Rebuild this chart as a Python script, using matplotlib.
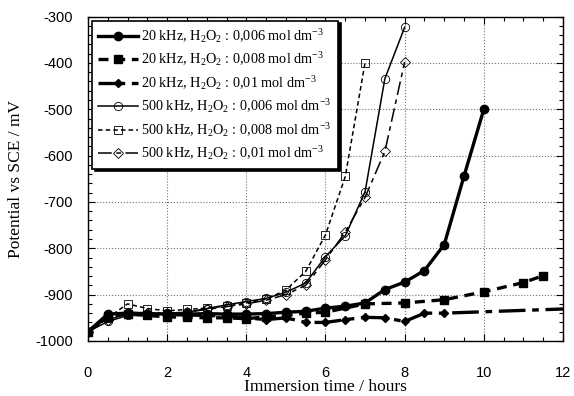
import matplotlib
matplotlib.use('Agg')
import matplotlib.pyplot as plt
from matplotlib.ticker import MultipleLocator

# immersion time (hours) and potential (mV vs SCE) for each run
t_20_006 = [0, 0.5, 1, 1.5, 2, 2.5, 3, 3.5, 4, 4.5, 5, 5.5, 6, 6.5, 7, 7.5, 8, 8.5, 9, 9.5, 10]
v_20_006 = [-980, -942, -940, -941, -942, -942, -941, -942, -942, -941, -938, -936, -929, -925,
            -918, -889, -873, -848, -792, -644, -500]

t_20_008 = [0, 0.5, 1, 1.5, 2, 2.5, 3, 3.5, 4, 4.5, 5, 5.5, 6, 7, 8, 9, 10, 11, 11.5]
v_20_008 = [-980, -948, -942, -945, -948, -949, -950, -950, -952, -948, -945, -940, -938,
            -920, -918, -911, -894, -874, -859]

t_20_01 = [0, 0.5, 1, 1.5, 2, 2.5, 3, 3.5, 4, 4.5, 5, 5.5, 6, 6.5, 7, 7.5, 8, 8.5, 9, 12]
v_20_01 = [-980, -945, -940, -942, -943, -944, -945, -946, -950, -954, -950, -960, -960, -954,
           -949, -950, -958, -940, -940, -931]

t_500_006 = [0, 0.5, 1, 1.5, 2, 2.5, 3, 3.5, 4, 4.5, 5, 5.5, 6, 6.5, 7, 7.5, 8]
v_500_006 = [-980, -958, -945, -942, -940, -938, -930, -922, -915, -908, -895, -875, -818, -773,
             -678, -434, -323]

t_500_008 = [0, 0.5, 1, 1.5, 2, 2.5, 3, 3.5, 4, 4.5, 5, 5.5, 6, 6.5, 7]
v_500_008 = [-980, -950, -920, -930, -935, -932, -929, -925, -918, -910, -890, -850, -771, -645, -399]

t_500_01 = [0, 0.5, 1, 1.5, 2, 2.5, 3, 3.5, 4, 4.5, 5, 5.5, 6, 6.5, 7, 7.5, 8]
v_500_01 = [-980, -955, -940, -940, -940, -938, -932, -926, -920, -912, -900, -880, -825, -765,
            -690, -591, -398]

labels = [
    '20 kHz, H$_2$O$_2$ : 0,006 mol dm$^{-3}$',
    '20 kHz, H$_2$O$_2$ : 0,008 mol dm$^{-3}$',
    '20 kHz, H$_2$O$_2$ : 0,01 mol dm$^{-3}$',
    '500 kHz, H$_2$O$_2$ : 0,006 mol dm$^{-3}$',
    '500 kHz, H$_2$O$_2$ : 0,008 mol dm$^{-3}$',
    '500 kHz, H$_2$O$_2$ : 0,01 mol dm$^{-3}$',
]

serif = 'Liberation Serif'
sans = 'Liberation Sans'
plt.rcParams['font.family'] = sans
plt.rcParams['axes.unicode_minus'] = False
plt.rcParams['mathtext.fontset'] = 'custom'
plt.rcParams['mathtext.rm'] = serif
plt.rcParams['mathtext.it'] = serif + ':italic'

fig = plt.figure(figsize=(5.74, 3.96), dpi=100)
ax = fig.add_axes([0.1533, 0.139, 0.8275, 0.819])

ax.plot(t_20_006, v_20_006, '-', color='k', lw=2.4, marker='o', ms=6, label=labels[0], zorder=5)
ax.plot(t_20_008, v_20_008, color='k', lw=2.4, dashes=(3, 2), marker='s', ms=6,
        label=labels[1], zorder=5)
ax.plot(t_20_01, v_20_01, color='k', lw=2.4, dashes=(8, 2, 2, 2), marker='D', ms=4.5,
        markevery=list(range(len(t_20_01) - 1)), label=labels[2], zorder=5)
ax.plot(t_500_006, v_500_006, '-', color='k', lw=1.1, marker='o', ms=6, mfc='none',
        mew=0.6, label=labels[3], zorder=4)
ax.plot(t_500_008, v_500_008, color='k', lw=1.1, dashes=(3, 2), marker='s', ms=6, mfc='none',
        mew=0.6, label=labels[4], zorder=4)
ax.plot(t_500_01, v_500_01, color='k', lw=1.1, dashes=(9, 3, 3, 3), marker='D', ms=5,
        mfc='none', mew=0.6, label=labels[5], zorder=4)

ax.set_xlim(0, 12)
ax.set_ylim(-1000, -300)
ax.xaxis.set_major_locator(MultipleLocator(2))
ax.xaxis.set_minor_locator(MultipleLocator(0.5))
ax.yaxis.set_major_locator(MultipleLocator(100))
ax.yaxis.set_minor_locator(MultipleLocator(20))
ax.tick_params(which='both', direction='in', top=True, right=True, width=0.8)
ax.tick_params(which='major', length=5, labelsize=10.5)
ax.tick_params(axis='x', which='major', pad=18)
ax.tick_params(axis='y', which='major', pad=11)
ax.tick_params(which='minor', length=3)
ax.grid(True, which='major', linestyle=':', color='0.45', lw=0.8)
for s in ax.spines.values():
    s.set_linewidth(1.0)

ax.set_xlabel('Immersion time / hours', family=serif, fontsize=12.5, labelpad=-1)
ax.set_ylabel('Potential vs SCE / mV', family=serif, fontsize=12.5, labelpad=8)

leg = ax.legend(loc='upper left', bbox_to_anchor=(0.008, 0.988), borderaxespad=0,
                prop={'family': serif, 'size': 10.3}, handlelength=2.8, handletextpad=0.2,
                labelspacing=0.38, borderpad=0.45, fancybox=False, framealpha=1, edgecolor='k',
                shadow={'color': 'k', 'alpha': 1})
leg.get_frame().set_linewidth(1.2)

fig.savefig('out.png', dpi=100)
